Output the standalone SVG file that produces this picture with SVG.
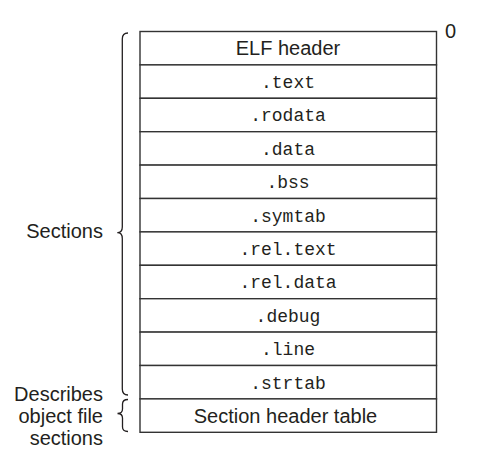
<svg xmlns="http://www.w3.org/2000/svg" width="478" height="474" viewBox="0 0 478 474">
<style>
.row{fill:#fff;stroke:#333;stroke-width:1.4}
.sans{font-family:"Liberation Sans",Arial,sans-serif;font-size:20px;fill:#231f20}
.mono{font-family:"Liberation Mono","Courier New",monospace;font-size:18px;fill:#231f20;text-anchor:middle}
.mid{text-anchor:middle}
.end{text-anchor:end}
.brace{fill:none;stroke:#231f20;stroke-width:1.3}
</style>
<rect width="478" height="474" fill="#fff"/>
<g id="elf-header"><rect class="row" x="140" y="31.5" width="296.5" height="33.4"/><text class="sans mid" x="288" y="55">ELF header</text></g>
<g id="text"><rect class="row" x="140" y="64.9" width="296.5" height="33.4"/><text class="mono" x="288" y="88">.text</text></g>
<g id="rodata"><rect class="row" x="140" y="98.3" width="296.5" height="33.4"/><text class="mono" x="288" y="121.4">.rodata</text></g>
<g id="data"><rect class="row" x="140" y="131.7" width="296.5" height="33.4"/><text class="mono" x="288" y="154.8">.data</text></g>
<g id="bss"><rect class="row" x="140" y="165.1" width="296.5" height="33.4"/><text class="mono" x="288" y="188.2">.bss</text></g>
<g id="symtab"><rect class="row" x="140" y="198.5" width="296.5" height="33.4"/><text class="mono" x="288" y="221.6">.symtab</text></g>
<g id="rel-text"><rect class="row" x="140" y="231.9" width="296.5" height="33.4"/><text class="mono" x="288" y="255">.rel.text</text></g>
<g id="rel-data"><rect class="row" x="140" y="265.3" width="296.5" height="33.4"/><text class="mono" x="288" y="288.4">.rel.data</text></g>
<g id="debug"><rect class="row" x="140" y="298.7" width="296.5" height="33.4"/><text class="mono" x="288" y="321.8">.debug</text></g>
<g id="line"><rect class="row" x="140" y="332.1" width="296.5" height="33.4"/><text class="mono" x="288" y="355.2">.line</text></g>
<g id="strtab"><rect class="row" x="140" y="365.5" width="296.5" height="33.4"/><text class="mono" x="288" y="388.6">.strtab</text></g>
<g id="section-header-table"><rect class="row" x="140" y="398.9" width="296.5" height="33.4"/><text class="sans mid" x="285.5" y="422.7">Section header table</text></g>
<g id="offset-zero"><text class="sans" x="445" y="38">0</text></g>
<g id="connectors">
<path class="brace" d="M128,33 Q122.3,33 122.3,39 L122.3,227 Q122.3,232.7 117.3,232.7 Q122.3,232.7 122.3,238.5 L122.3,389 Q122.3,395 128,395"/>
<path class="brace" d="M128,399.5 Q122.5,399.5 122.5,404 L122.5,409 Q122.5,413.5 117.5,413.5 Q122.5,413.5 122.5,418 L122.5,427 Q122.5,431.5 128,431.5"/>
</g>
<g id="sections-label"><text class="sans end" x="103" y="238">Sections</text></g>
<g id="describes-label"><text class="sans end" x="103" y="400.5">Describes</text><text class="sans end" x="103" y="423">object file</text><text class="sans end" x="103" y="445">sections</text></g>
</svg>
